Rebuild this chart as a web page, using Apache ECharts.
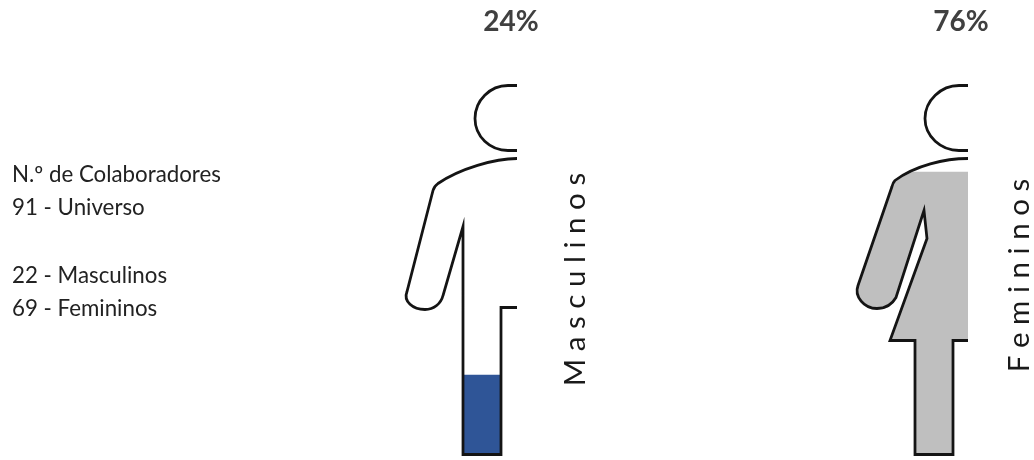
<!DOCTYPE html>
<html>
<head>
<meta charset="utf-8">
<style>html,body{margin:0;padding:0;background:#fff}#c{width:1034px;height:460px}</style>
<script src="https://cdn.jsdelivr.net/npm/echarts@6/dist/echarts.min.js"></script>
</head>
<body>
<div id="c"></div>
<script>
var categories = ['Masculinos', 'Femininos'];
var percentLabels = ['24%', '76%'];
var fillLevels = [22, 77];
var fullLevels = [100, 100];
var fillColors = ['#2F5597', '#BFBFBF'];
var infoLines = ['N.º de Colaboradores', '91 - Universo', '', '22 - Masculinos', '69 - Femininos'];

var maleHead = 'M517 87 L508 87 C490 87 475 102 475 120 C475 138 490 152 508 152 L517 152';
var maleBody = 'M517 160 C495 160 460 170 438 185 Q434 188 433 192 L407 293 C403 303 413 311 425 311 C434 311 441 305 443 297 L463 228 L463 456 L501 456 L501 309 L517 309';
var femaleHead = 'M968 87 L959 87 C941 87 925 102 925 120 C925 138 941 152 959 152 L968 152';
var femaleBody = 'M968 160 C945 160 915 167 895 182 Q893 184 892 188 L858 287 C854 298 864 310 877 310 C885 310 892 306 896 299 L923 215 L924 212 L927 240 L890 342 L915 342 L915 456 L953 456 L953 342 L968 342';
// zero-length anchors make each symbol's box square, so its stroke stays uniform when scaled
var maleAnchor = 'M148 87 L148 87';
var femaleAnchor = 'M599 87 L599 87';
var outlines = ['path://' + maleAnchor + ' ' + maleHead + ' ' + maleBody, 'path://' + femaleAnchor + ' ' + femaleHead + ' ' + femaleBody];
var fills = ['path://' + maleAnchor + ' ' + maleHead + ' Z ' + maleBody + ' Z', 'path://' + femaleAnchor + ' ' + femaleHead + ' Z ' + femaleBody + ' Z'];
var FONT = 'Lato, sans-serif';

function spaced(s) { return s.split('').join(' '); }

var graphics = [];
percentLabels.forEach(function (t, i) {
  graphics.push({ type: 'text', x: [511, 961][i], y: 22, style: { text: t, font: 'bold 28px ' + FONT, fill: '#404040', align: 'center', verticalAlign: 'middle' } });
});
categories.forEach(function (t, i) {
  graphics.push({ type: 'text', x: [575, 1019][i], y: [279.5, 275.5][i], rotation: Math.PI / 2, style: { text: spaced(t), font: '29.5px ' + FONT, fill: '#1a1a1a', align: 'center', verticalAlign: 'middle' } });
});
var infoY = [175, 208, 242, 276, 309];
infoLines.forEach(function (t, i) {
  if (t) graphics.push({ type: 'text', x: 12, y: infoY[i], style: { text: t, font: '22.3px ' + FONT, fill: '#222222', align: 'left', verticalAlign: 'middle' } });
});

var chart = echarts.init(document.getElementById('c'), null, { renderer: 'canvas' });
chart.setOption({
  animation: false,
  backgroundColor: '#ffffff',
  grid: { left: 107, width: 902, top: 87, height: 369, outerBoundsMode: 'none' },
  xAxis: { type: 'category', data: categories, show: false },
  yAxis: { type: 'value', min: 0, max: 100, show: false },
  graphic: graphics,
  series: [
    {
      type: 'pictorialBar', z: 2, symbolClip: true, symbolBoundingData: 100, symbolPosition: 'start',
      data: fillLevels.map(function (v, i) {
        return { value: v, symbol: fills[i], symbolSize: [369, '100%'], itemStyle: { color: fillColors[i] } };
      })
    },
    {
      type: 'pictorialBar', z: 3, symbolBoundingData: 100, symbolPosition: 'start',
      data: fullLevels.map(function (v, i) {
        return { value: v, symbol: outlines[i], symbolSize: [369, '100%'],
          itemStyle: { color: 'rgba(0,0,0,0)', borderColor: '#141414', borderWidth: 3 } };
      })
    }
  ]
});
</script>
</body>
</html>
